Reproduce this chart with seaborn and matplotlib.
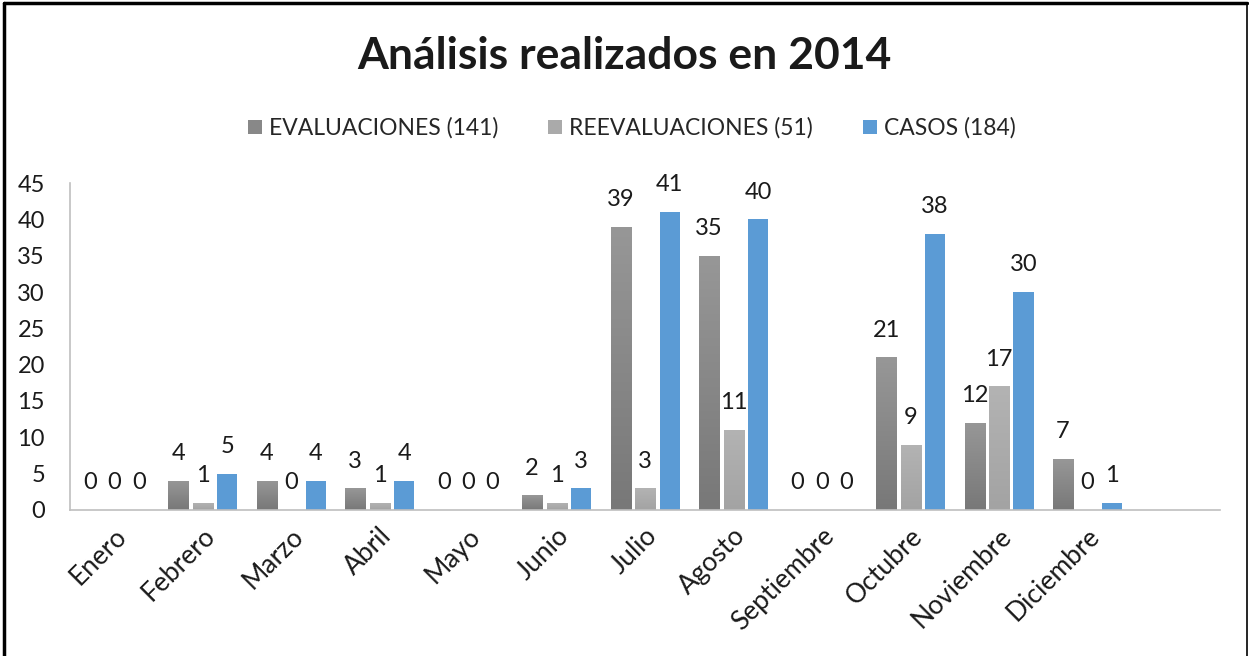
import numpy as np
import pandas as pd
import matplotlib
matplotlib.use("Agg")
import matplotlib.pyplot as plt
from matplotlib.lines import Line2D
from matplotlib.colors import LinearSegmentedColormap
from matplotlib.transforms import ScaledTranslation
import seaborn as sns

# datos
meses = ["Enero", "Febrero", "Marzo", "Abril", "Mayo", "Junio", "Julio",
         "Agosto", "Septiembre", "Octubre", "Noviembre", "Diciembre", ""]
evaluaciones = [0, 4, 4, 3, 0, 2, 39, 35, 0, 21, 12, 7]
reevaluaciones = [0, 1, 0, 1, 0, 1, 3, 11, 0, 9, 17, 0]
casos = [0, 5, 4, 4, 0, 3, 41, 40, 0, 38, 30, 1]
series = ["EVALUACIONES (141)", "REEVALUACIONES (51)", "CASOS (184)"]
titulo = "Análisis realizados en 2014"

sns.set_style("white")
plt.rcParams['font.family'] = ['Lato', 'DejaVu Sans']

df = pd.DataFrame({
    "mes": meses[:12] * 3,
    "serie": [series[0]] * 12 + [series[1]] * 12 + [series[2]] * 12,
    "valor": evaluaciones + reevaluaciones + casos,
})
df["mes"] = pd.Categorical(df["mes"], categories=meses)

colores = {series[0]: "#878787", series[1]: "#aaaaaa", series[2]: "#5b9bd5"}
gradientes = {series[0]: ("#787878", "#979797"), series[1]: ("#a3a3a3", "#b3b3b3")}

fig = plt.figure(figsize=(12.49, 6.56), dpi=100)
ax = fig.add_axes([0.056, 0.2226, 0.921, 0.4984])

sns.barplot(data=df, x="mes", y="valor", hue="serie", hue_order=series,
            order=meses, palette=colores, width=0.83, gap=0.18,
            saturation=1, linewidth=0, legend=False, ax=ax)

# etiquetas y degradado en las barras grises
for cont, serie in zip(ax.containers, series):
    for barra, v in zip(cont, cont.datavalues):
        x0 = barra.get_x()
        w = barra.get_width()
        h = barra.get_height()
        ax.annotate(f"{int(v)}", (x0 + w / 2, h), xytext=(0, 12),
                    textcoords="offset points", ha="center", va="bottom",
                    fontsize=17, color="#1a1a1a")
        if serie in gradientes and h > 0:
            cmap = LinearSegmentedColormap.from_list("g", list(gradientes[serie]))
            img = ax.imshow(np.linspace(0, 1, 100).reshape(-1, 1), cmap=cmap,
                            extent=[x0, x0 + w, 0, h], origin="lower",
                            aspect="auto", zorder=barra.get_zorder())
            img.set_clip_path(barra)
ax.set_aspect("auto")
ax.set_xlim(-0.5, len(meses) - 0.5)
ax.set_ylim(0, 45)
ax.set_yticks(range(0, 46, 5))

ax.set_xlabel("")
ax.set_ylabel("")
for lado in ["top", "right"]:
    ax.spines[lado].set_visible(False)
for lado in ["left", "bottom"]:
    ax.spines[lado].set_color("#bfbfbf")
    ax.spines[lado].set_linewidth(1.2)
ax.tick_params(axis="both", length=0, labelsize=17, colors="#1a1a1a")
ax.tick_params(axis="y", pad=18)
plt.setp(ax.get_xticklabels(), rotation=45, ha="right", va="center",
         rotation_mode="anchor", fontsize=19)
ax.tick_params(axis="x", pad=16)
desplazar = ScaledTranslation(6 / 72, 0, fig.dpi_scale_trans)
for etiqueta in ax.get_xticklabels():
    etiqueta.set_transform(etiqueta.get_transform() + desplazar)

fig.text(0.5, 0.915, titulo, ha="center", va="center", fontsize=32,
         fontweight="bold", color="#1a1a1a")

handles = [Line2D([], [], marker="s", linestyle="", markersize=10,
                  markerfacecolor=c, markeredgewidth=0)
           for c in ["#888888", "#aaaaaa", "#5b9bd5"]]
fig.legend(handles, series, loc="center", bbox_to_anchor=(0.505, 0.805),
           ncol=3, frameon=False, fontsize=16.5, handletextpad=0.2,
           columnspacing=2.1, handlelength=0.8)

# marco del grafico
fig.add_artist(Line2D([0.003, 0.003], [0, 0.996], color="black", lw=2.5,
                      transform=fig.transFigure))
fig.add_artist(Line2D([0.003, 0.998], [0.996, 0.996], color="black", lw=2.5,
                      transform=fig.transFigure))
fig.add_artist(Line2D([0.998, 0.998], [0, 0.996], color="black", lw=1.2,
                      transform=fig.transFigure))

fig.savefig("out.png", dpi=100)
